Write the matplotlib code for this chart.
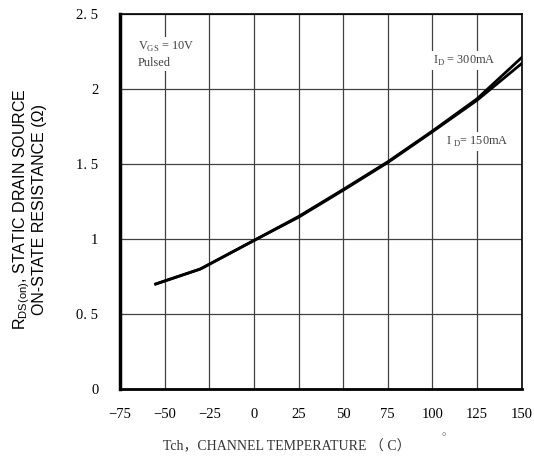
import matplotlib
matplotlib.use("Agg")
import matplotlib.pyplot as plt

# channel temperature (C) and on-state resistance (ohm)
temp_300 = [-55, -30, 0, 25, 50, 75, 100, 125, 150]
rds_300 = [0.70, 0.80, 0.99, 1.15, 1.33, 1.515, 1.72, 1.935, 2.21]
temp_150 = [-55, -30, 0, 25, 50, 75, 100, 125, 150]
rds_150 = [0.70, 0.80, 0.99, 1.145, 1.325, 1.51, 1.715, 1.925, 2.17]

x_ticks = [-75, -50, -25, 0, 25, 50, 75, 100, 125, 150]
x_labels = ["\u221275", "\u221250", "\u221225", "0", "25", "50", "75", "100", "125", "150"]
y_ticks = [0, 0.5, 1, 1.5, 2, 2.5]
y_labels = ["0", "0. 5", "1", "1. 5", "2", "2. 5"]

plt.rcParams["mathtext.fontset"] = "custom"
plt.rcParams["mathtext.rm"] = "Liberation Serif"
plt.rcParams["mathtext.sf"] = "Liberation Sans"
serif = ["Liberation Serif", "Noto Sans CJK JP"]

fig = plt.figure(figsize=(5.34, 4.65), dpi=100)
ax = fig.add_axes([0.2247, 0.1634, 0.7523, 0.8065])

ax.plot(temp_300, rds_300, color="black", lw=2)
ax.plot(temp_150, rds_150, color="black", lw=2)

ax.set_xlim(-75, 150)
ax.set_ylim(0, 2.5)
ax.set_xticks(x_ticks)
ax.set_xticklabels(x_labels, fontfamily=serif, fontsize=10.5)
ax.set_yticks(y_ticks)
ax.set_yticklabels(y_labels, fontfamily=serif, fontsize=10.5)
ax.tick_params(axis="x", length=0, pad=14)
ax.tick_params(axis="y", length=0, pad=15.5)
ax.grid(True, color="0.25", lw=0.9)
ax.set_axisbelow(True)

ax.spines["left"].set_linewidth(2.5)
ax.spines["bottom"].set_linewidth(2)
ax.spines["top"].set_linewidth(1.2)
ax.spines["right"].set_linewidth(1.2)

box = dict(facecolor="white", edgecolor="none", pad=1.5)
ax.text(-65, 2.23, "V$_{\\rm GS}$ = 10V\nPulsed", fontfamily=serif, fontsize=8.8,
        va="center", ha="left", color="0.25", bbox=box, linespacing=1.25)
ax.text(100.5, 2.19, "I$_{\\rm D}$ = 300mA", fontfamily=serif, fontsize=8.8,
        va="center", ha="left", color="0.25", bbox=box)
ax.text(107.5, 1.65, "I $_{\\rm D}$= 150mA", fontfamily=serif, fontsize=8.8,
        va="center", ha="left", color="0.25", bbox=box)

fig.text(0.537, 0.039, "Tch\uff0cCHANNEL TEMPERATURE \uff08 C\uff09", fontfamily=serif,
         fontsize=10, ha="center", va="center", color="0.2")
fig.text(0.831, 0.058, "\u00b0", fontfamily=serif, fontsize=8,
         ha="center", va="center", color="0.3")

fig.text(0.055, 0.55, "R$_{\\mathsf{DS(on)}}$, STATIC DRAIN SOURCE\nON-STATE RESISTANCE (\u03a9)",
         fontfamily="Liberation Sans", fontsize=11.5, rotation=90,
         ha="center", va="center", multialignment="center", linespacing=1.0)

fig.savefig("out.png", dpi=100)
